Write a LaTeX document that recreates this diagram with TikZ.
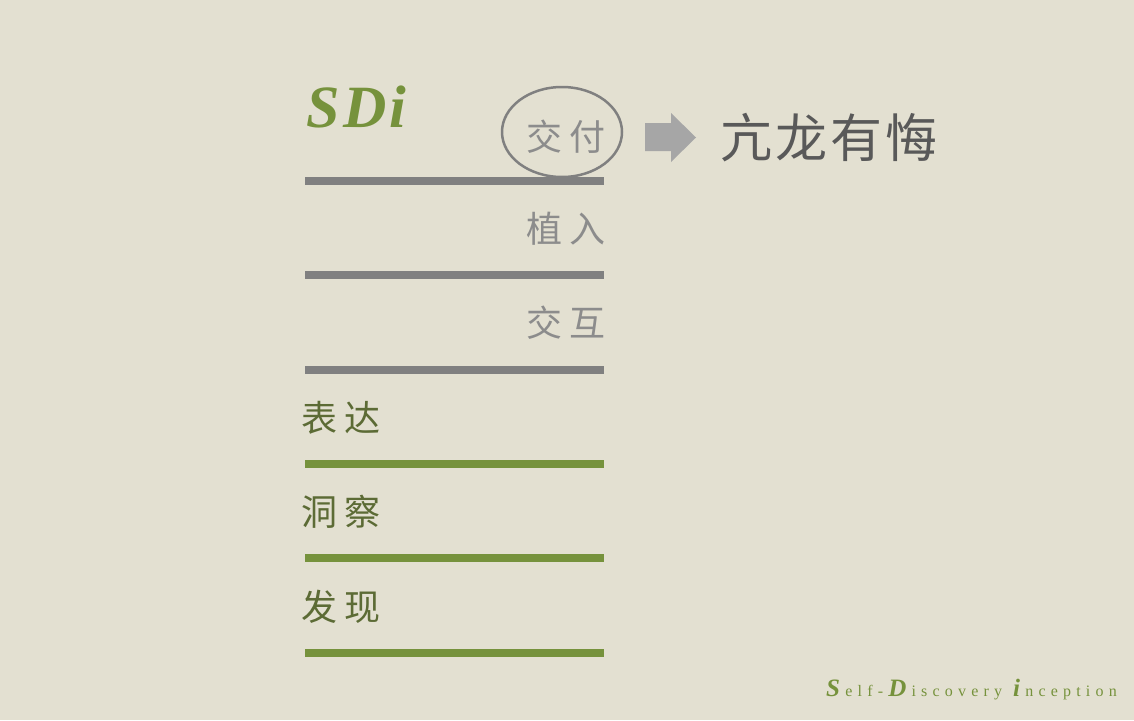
\documentclass[tikz,border=0pt]{standalone}
\usepackage{fontspec}
\setmainfont{Liberation Serif}
\newfontfamily\cjk{Noto Sans CJK SC}
\newfontfamily\sdfont{Liberation Serif Bold Italic}
\usetikzlibrary{positioning,calc}
\definecolor{bgpaper}{HTML}{E3E0D1}
\definecolor{sdgreen}{HTML}{76923C}
\definecolor{lblgreen}{HTML}{5C6B35}
\definecolor{bargray}{HTML}{808080}
\definecolor{lblgray}{HTML}{8C8C8C}
\definecolor{arrgray}{HTML}{A6A6A6}
\definecolor{txtdark}{HTML}{595959}
\newcommand{\lgap}{\kern5.2pt}
\newcommand{\cgap}{\kern7pt}
\newcommand{\capltr}[1]{{\sdfont\fontsize{25}{25}\selectfont #1}}
\tikzset{
    stepbar/.style = {line width=8pt, line cap=butt},
    rtext/.style = {inner sep=0, anchor=base east, text=lblgray, font=\cjk\fontsize{36}{40}\selectfont},
    ltext/.style = {inner sep=0, anchor=base west, text=lblgreen, font=\cjk\fontsize{36}{40}\selectfont}
}
\begin{document}
\begin{tikzpicture}[x=1pt,y=-1pt]
    \fill[bgpaper] (0,0) rectangle (1134,720);
    \useasboundingbox (0,0) rectangle (1134,720);
    % bars
    \foreach \y/\c in {181/bargray,275/bargray,370/bargray,464/sdgreen,558/sdgreen,653/sdgreen}
        \draw[stepbar,\c] (305,\y) -- (604,\y);
    % title
    \node[inner sep=0,anchor=base west,text=sdgreen,font=\sdfont\fontsize{60}{60}\selectfont] (title) at (306,127) {S\kern4pt D\kern3pt i};
    % steps
    \node[rtext] (deliver) at (606,150) {交\cgap 付};
    \node[rtext] (implant) at (606,242) {植\cgap 入};
    \node[rtext] (interact) at (606,336) {交\cgap 互};
    \node[ltext] (express) at (301,431) {表\cgap 达};
    \node[ltext] (insight) at (301,525) {洞\cgap 察};
    \node[ltext] (discover) at (301,620) {发\cgap 现};
    \draw[bargray,line width=2.5pt] (562,132) ellipse [x radius=60, y radius=45];
    % arrow to the result
    \fill[arrgray] (645,123) -- (671,123) -- (671,113) -- (696,137.5) -- (671,162) -- (671,151) -- (645,151) -- cycle;
    \node[inner sep=0,anchor=base west,text=txtdark,font=\cjk\fontsize{52}{56}\selectfont] (result) at (720,157) {亢\kern3pt 龙\kern3pt 有\kern3pt 悔};
    % footer
    \node[inner sep=0,anchor=base east,text=sdgreen,font=\fontsize{16}{18}\selectfont] (footer) at (1117,696)
        {\capltr{S}\lgap e\lgap l\lgap f\lgap -\lgap\capltr{D}\lgap i\lgap s\lgap c\lgap o\lgap v\lgap e\lgap r\lgap y\kern11pt\capltr{i}\lgap n\lgap c\lgap e\lgap p\lgap t\lgap i\lgap o\lgap n};
\end{tikzpicture}
\end{document}
